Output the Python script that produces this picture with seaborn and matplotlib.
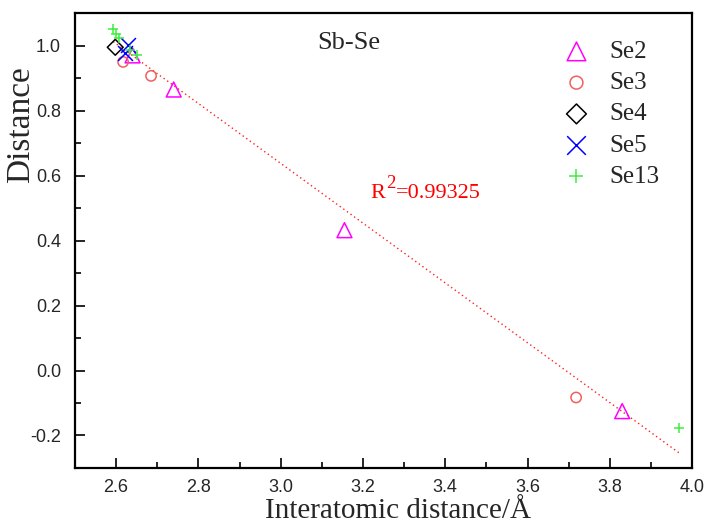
import numpy as np
import pandas as pd
import matplotlib
matplotlib.use("Agg")
import matplotlib.pyplot as plt
from matplotlib.ticker import MultipleLocator
from matplotlib.transforms import offset_copy
import seaborn as sns

# ---- data ----
se2_x = [2.640, 2.740, 3.155, 3.830]
se2_y = [0.970, 0.865, 0.432, -0.125]
se3_x = [2.617, 2.685, 3.718]
se3_y = [0.950, 0.907, -0.083]
se4_x = [2.598]
se4_y = [0.995]
se5_x = [2.622, 2.628]
se5_y = [0.978, 1.003]
se13_x = [2.593, 2.600, 2.607, 2.633, 2.650, 3.968]
se13_y = [1.052, 1.036, 1.025, 0.988, 0.970, -0.178]
r2_text = "=0.99325"
title_text = "Sb-Se"

sns.set_theme(style="ticks")
plt.rcParams['font.family'] = ['Liberation Serif', 'DejaVu Serif']
plt.rcParams['axes.unicode_minus'] = False

fig = plt.figure(figsize=(7.07, 5.27), dpi=100)
ax = fig.add_axes([0.106, 0.112, 0.873, 0.863])

series = [
    ("Se2", se2_x, se2_y, "^", "#ff00ff", 115, True),
    ("Se3", se3_x, se3_y, "o", "#f25f5f", 55, True),
    ("Se4", se4_x, se4_y, "D", "#000000", 65, True),
    ("Se5", se5_x, se5_y, "x", "#0000ff", 115, False),
    ("Se13", se13_x, se13_y, "+", "#40ee40", 60, False),
]

# fitted line through all points
all_x = np.concatenate([np.array(s[1]) for s in series])
all_y = np.concatenate([np.array(s[2]) for s in series])
k, b = np.polyfit(all_x, all_y, 1)
lx = np.array([all_x.min(), all_x.max()])
ax.plot(lx, k * lx + b, linestyle=(0, (1, 2.2)), color="#ff2020", lw=1.0, zorder=1)

for name, xs, ys, mk, col, s, hollow in series:
    df = pd.DataFrame({"x": xs, "y": ys})
    if hollow:
        sns.scatterplot(data=df, x="x", y="y", ax=ax, marker=mk, s=s,
                        facecolors="none", edgecolor=col, linewidth=1.1,
                        label=name, zorder=3)
    else:
        sns.scatterplot(data=df, x="x", y="y", ax=ax, marker=mk, s=s,
                        color=col, linewidth=1.1, label=name, zorder=3)

ax.set_xlim(2.5, 4.0)
ax.set_ylim(-0.3, 1.1)
ax.xaxis.set_major_locator(MultipleLocator(0.2))
ax.xaxis.set_minor_locator(MultipleLocator(0.1))
ax.yaxis.set_major_locator(MultipleLocator(0.2))
ax.yaxis.set_minor_locator(MultipleLocator(0.1))
ax.tick_params(which="major", direction="in", length=7, width=1.2, color="black",
               labelsize=13)
ax.tick_params(axis="y", which="major", pad=10)
ax.tick_params(axis="x", which="major", pad=8)
ax.tick_params(which="minor", direction="in", length=4, width=1.2, color="black")
for lab in ax.get_xticklabels() + ax.get_yticklabels():
    lab.set_fontfamily("Liberation Sans")
for sp in ax.spines.values():
    sp.set_visible(True)
    sp.set_linewidth(1.6)
    sp.set_color("black")

ax.set_xlabel("Interatomic distance/Å", fontsize=21, va="top")
ax.xaxis.set_label_coords(0.5235, -0.066)
ax.set_ylabel("Distance", fontsize=24, va="center")
ax.yaxis.set_label_coords(-0.0875, 0.754)

ax.text(3.09, 1.009, title_text, fontsize=19, ha="left", va="center")

# R^2 annotation with a raised "2"
x0, y0 = 3.217, 0.532
tR = ax.text(x0, y0, "R", fontsize=16, color="red", ha="left", va="baseline")
fig.canvas.draw()
ext = tR.get_window_extent()
w_pt = ext.width * 72.0 / fig.dpi
t2 = ax.text(x0, y0, "2", fontsize=13.5, color="red", ha="left", va="baseline",
             transform=offset_copy(ax.transData, fig=fig, x=w_pt + 0.8, y=7, units="points"))
fig.canvas.draw()
ext2 = t2.get_window_extent()
w2_pt = (ext.width + ext2.width) * 72.0 / fig.dpi
ax.text(x0, y0, r2_text, fontsize=16, color="red", ha="left", va="baseline",
        transform=offset_copy(ax.transData, fig=fig, x=w2_pt + 1.0, y=0, units="points"))

leg = ax.legend(loc="upper left", bbox_to_anchor=(0.768, 0.962), frameon=False,
                fontsize=18, labelspacing=0.35, handlelength=1.4, handletextpad=0.6,
                markerscale=1.25, borderaxespad=0)

fig.savefig("out.png", dpi=100, facecolor="white")
